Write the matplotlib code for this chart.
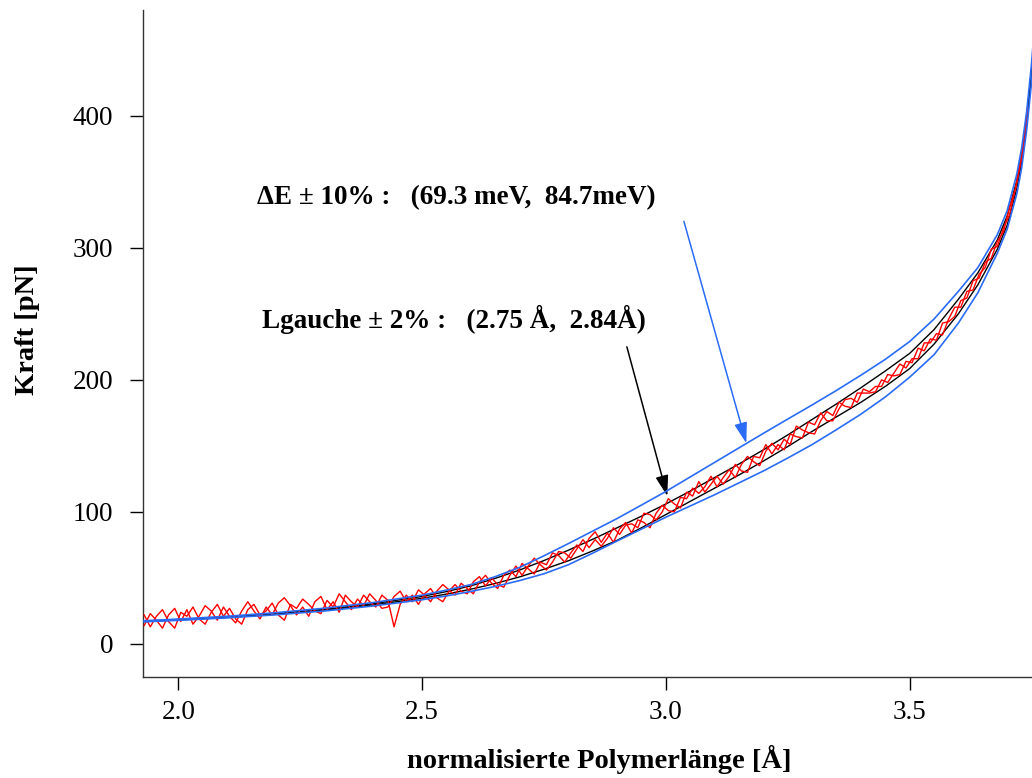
import numpy as np
import matplotlib
matplotlib.use("Agg")
import matplotlib.pyplot as plt

plt.rcParams["font.family"] = ["Liberation Serif", "DejaVu Serif"]

# ---------------------------------------------------------------------------
# Data
# ---------------------------------------------------------------------------

# model curves: Lgauche +/- 2% (black) and dE +/- 10% (blue)
model_x = [1.93, 2.0, 2.1, 2.2, 2.3, 2.4, 2.5, 2.55, 2.6, 2.65, 2.7, 2.75,
           2.8, 2.85, 2.9, 2.95, 3.0, 3.05, 3.1, 3.15, 3.2, 3.25, 3.3, 3.35,
           3.4, 3.45, 3.5, 3.55, 3.6, 3.64, 3.68, 3.70, 3.72, 3.73, 3.74,
           3.75, 3.76]

blue_upper = [17.6, 18.9, 21.0, 23.7, 27.1, 31.4, 37.0, 40.8, 45.0, 51.0,
              58.0, 66.8, 76.0, 85.5, 95.0, 105.2, 115.5, 126.5, 137.5,
              148.5, 159.5, 170.3, 181.0, 192.0, 203.5, 215.5, 229.0, 246.0,
              267.0, 285.0, 310.0, 328.0, 356.0, 376.0, 403.0, 439.0, 486.0]

black_upper = [17.3, 18.5, 20.5, 23.0, 26.3, 30.5, 36.0, 39.7, 44.0, 49.7,
               56.0, 63.2, 71.0, 79.3, 88.0, 96.8, 106.0, 115.8, 126.0,
               136.3, 147.0, 158.3, 170.0, 181.8, 194.0, 206.7, 220.0, 238.0,
               261.0, 281.0, 306.0, 324.0, 351.0, 371.0, 398.0, 434.0, 480.0]

black_lower = [17.0, 18.2, 20.1, 22.5, 25.6, 29.6, 34.6, 37.8, 41.5, 45.8,
               50.8, 56.6, 63.0, 70.5, 78.5, 88.0, 98.0, 108.0, 118.0, 128.0,
               138.5, 149.5, 161.0, 172.0, 183.0, 195.0, 208.5, 227.0, 250.0,
               272.0, 299.0, 317.0, 345.0, 365.0, 393.0, 429.0, 475.0]

blue_lower = [16.8, 17.9, 19.8, 22.1, 25.0, 28.8, 33.5, 36.4, 39.8, 43.6,
              48.0, 53.2, 60.0, 68.8, 78.0, 87.0, 96.0, 104.5, 113.0, 122.0,
              131.0, 140.8, 151.0, 162.3, 174.0, 187.0, 202.0, 219.0, 243.0,
              266.0, 296.0, 314.0, 341.0, 361.0, 389.0, 425.0, 470.0]

# measured force curves (two runs), sampled every 0.0125 from 1.93
meas_x = np.round(1.93 + 0.0125 * np.arange(146), 4)

meas_a = [14, 23, 18, 12, 22, 27, 17, 26, 15, 21,
          29, 25, 18, 28, 21, 16, 25, 32, 25, 19,
          28, 22, 31, 35, 29, 22, 28, 21, 32, 36,
          26, 32, 24, 37, 32, 28, 37, 32, 28, 37,
          33, 13, 30, 37, 32, 41, 37, 32, 40, 45,
          41, 37, 46, 42, 38, 47, 52, 46, 42, 52,
          56, 51, 61, 57, 53, 62, 60, 69, 67, 62,
          69, 75, 70, 80, 85, 77, 84, 77, 87, 92,
          84, 94, 92, 88, 99, 105, 101, 100, 111, 110,
          118, 114, 119, 127, 119, 126, 132, 126, 136, 142,
          138, 135, 146, 152, 147, 155, 151, 165, 162, 160,
          159, 169, 176, 173, 183, 180, 179, 190, 190, 190,
          191, 200, 198, 205, 212, 209, 216, 216, 228, 228,
          235, 234, 246, 255, 255, 267, 268, 280, 285, 299,
          301, 315, 325, 346, 368, 404]

meas_b = [22, 13, 21, 26, 17, 12, 24, 21, 28, 19,
          15, 24, 30, 21, 27, 19, 15, 26, 30, 22,
          25, 31, 22, 18, 30, 27, 34, 30, 25, 23,
          33, 28, 38, 32, 26, 34, 29, 38, 33, 27,
          28, 36, 40, 32, 37, 30, 38, 42, 35, 32,
          40, 45, 40, 38, 47, 51, 44, 50, 45, 43,
          52, 59, 52, 59, 65, 60, 56, 62, 70, 69,
          65, 72, 79, 73, 79, 74, 80, 88, 83, 90,
          91, 88, 99, 98, 94, 100, 110, 106, 103, 115,
          112, 123, 115, 121, 127, 121, 127, 136, 131, 130,
          142, 141, 151, 144, 151, 147, 159, 157, 156, 168,
          166, 175, 169, 169, 178, 185, 186, 183, 193, 191,
          195, 195, 204, 203, 204, 214, 213, 224, 222, 231,
          230, 243, 244, 248, 260, 262, 275, 277, 289, 292,
          305, 312, 331, 345, 371, 407]

x_ticks = [2.0, 2.5, 3.0, 3.5]
y_ticks = [0, 100, 200, 300, 400]

BLUE = "#2a6cf5"

# ---------------------------------------------------------------------------
# Figure
# ---------------------------------------------------------------------------

fig = plt.figure(figsize=(10.32, 7.78), dpi=100)
ax = fig.add_axes([0.1386, 0.1298, 0.8614, 0.8573])

ax.plot(model_x, black_upper, color="black", lw=1.0, zorder=2)
ax.plot(model_x, black_lower, color="black", lw=1.0, zorder=2)
ax.plot(meas_x, meas_a, color="red", lw=1.0, zorder=3)
ax.plot(meas_x, meas_b, color="red", lw=1.0, zorder=3)
ax.plot(model_x, blue_upper, color=BLUE, lw=1.2, zorder=4)
ax.plot(model_x, blue_lower, color=BLUE, lw=1.2, zorder=4)

ax.set_xlim(1.9276, 3.751)
ax.set_ylim(-25, 480)
ax.set_xticks(x_ticks)
ax.set_xticklabels([f"{t:.1f}" for t in x_ticks])
ax.set_yticks(y_ticks)

for side in ("top", "right"):
    ax.spines[side].set_visible(False)
for side in ("left", "bottom"):
    ax.spines[side].set_linewidth(1.0)
    ax.spines[side].set_color("#333333")

ax.tick_params(axis="x", direction="out", length=9.5, width=1.0,
               labelsize=19.5, pad=7)
ax.tick_params(axis="y", direction="out", length=9.5, width=1.0,
               labelsize=19.5, pad=12)

ax.set_xlabel("normalisierte Polymerlänge [Å]", fontsize=20.5,
              fontweight="bold", va="center")
ax.set_ylabel("Kraft [pN]", fontsize=20.5, fontweight="bold", va="center")
ax.xaxis.set_label_coords(0.513, -0.124)
ax.yaxis.set_label_coords(-0.1305, 0.52)

# annotations
ax.text(2.161, 338, "ΔE ± 10% :   (69.3 meV,  84.7meV)", fontsize=19.5,
        fontweight="bold", va="center", ha="left")
ax.text(2.172, 245.5, "Lgauche ± 2% :   (2.75 Å,  2.84Å)", fontsize=19.5,
        fontweight="bold", va="center", ha="left")

head = "-|>,head_length=0.9,head_width=0.28"
ax.annotate("", xy=(3.165, 152), xytext=(3.037, 320),
            arrowprops=dict(arrowstyle=head, color=BLUE, lw=1.1,
                            mutation_scale=14, shrinkA=0, shrinkB=0))
ax.annotate("", xy=(3.003, 112), xytext=(2.920, 225),
            arrowprops=dict(arrowstyle=head, color="black", lw=1.1,
                            mutation_scale=14, shrinkA=0, shrinkB=0))

fig.savefig("out.png", dpi=100)
